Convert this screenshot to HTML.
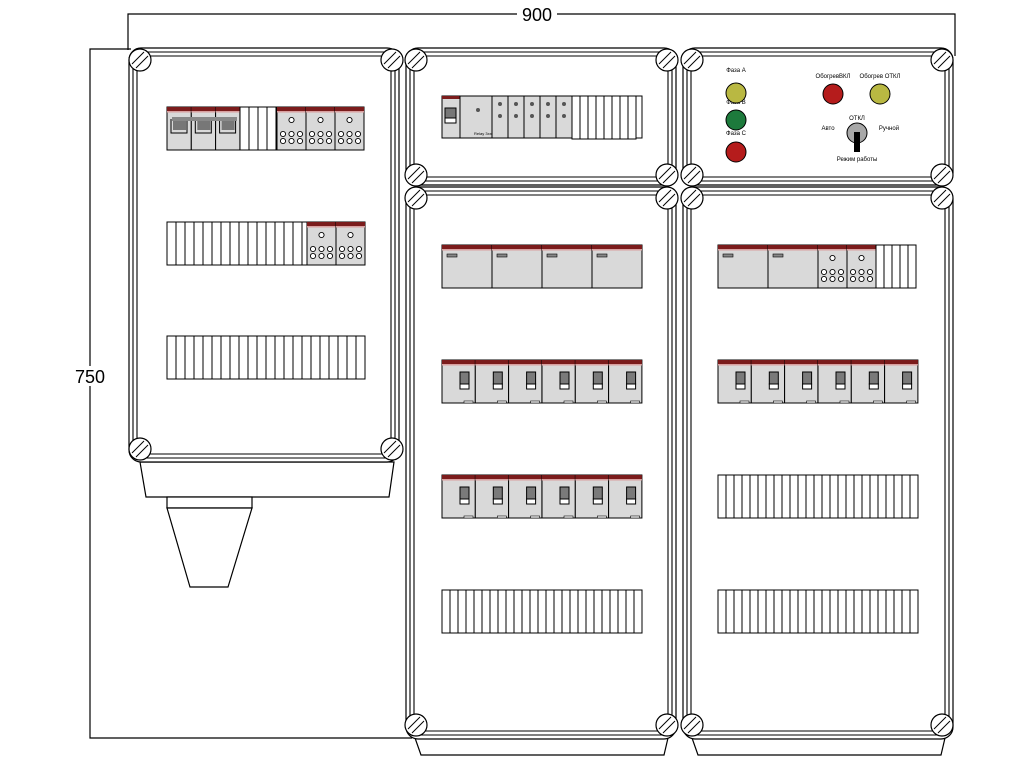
<!DOCTYPE html>
<html><head><meta charset="utf-8"><style>
html,body{margin:0;padding:0;background:#fff;}
svg{display:block;}
text{font-family:"Liberation Sans",sans-serif;}
</style></head><body>
<svg width="1024" height="768" viewBox="0 0 1024 768" xmlns="http://www.w3.org/2000/svg">
<defs>
  <g id="sc"><circle r="11" fill="#fff" stroke="#000" stroke-width="1.2"/><line x1="-8" y1="4" x2="4" y2="-8" stroke="#000"/><line x1="-4" y1="8" x2="8" y2="-4" stroke="#000"/></g>
  <g id="bl"><rect x="0" y="0" width="9" height="43" fill="#fff" stroke="#000"/></g>
  <g id="bl8"><rect x="0" y="0" width="8" height="43" fill="#fff" stroke="#000"/></g>
  <g id="brk"><rect width="33.3" height="43" fill="#d9d9d9" stroke="#000"/><rect width="33.3" height="4" fill="#7b1c1c"/><rect y="4" width="33.3" height="1.5" fill="#d9a0a0"/><rect x="18" y="12" width="9" height="12" fill="#7a7a7a" stroke="#000"/><rect x="18" y="24" width="9" height="5" fill="#fff" stroke="#000"/><rect x="22" y="41" width="9" height="2" fill="#fff" stroke="#000" stroke-width="0.6"/></g>
  <g id="big"><rect width="50" height="43" fill="#d9d9d9" stroke="#000"/><rect width="50" height="4" fill="#7b1c1c"/><rect y="4" width="50" height="1.5" fill="#d9a0a0"/><rect x="5" y="9" width="10" height="3" fill="#888" stroke="#000" stroke-width="0.6"/></g>
  <g id="rcd"><rect width="29" height="43" fill="#d9d9d9" stroke="#000"/><rect width="29" height="4" fill="#7b1c1c"/><rect y="4" width="29" height="1.5" fill="#d9a0a0"/><g fill="#fff" stroke="#000" stroke-width="0.9"><circle cx="14.5" cy="13" r="2.6"/><circle cx="6" cy="27" r="2.6"/><circle cx="14.5" cy="27" r="2.6"/><circle cx="23" cy="27" r="2.6"/><circle cx="6" cy="34" r="2.6"/><circle cx="14.5" cy="34" r="2.6"/><circle cx="23" cy="34" r="2.6"/></g></g>
  <g id="pole"><rect width="24.3" height="43" fill="#d9d9d9" stroke="#000"/><rect width="24.3" height="4" fill="#7b1c1c"/><rect y="4" width="24.3" height="1.5" fill="#d9a0a0"/><path d="M4 12 V26 H20 V12" fill="none" stroke="#000"/><rect x="6" y="12" width="13" height="11" fill="#777"/></g>
  <g id="dm"><rect width="16" height="42" fill="#d9d9d9" stroke="#000"/><circle cx="8" cy="8" r="2" fill="#555"/><circle cx="8" cy="20" r="2" fill="#555"/></g>
</defs>

<!-- dimension lines -->
<g stroke="#000" stroke-width="1.2" fill="none">
  <polyline points="128,50 128,14 955,14 955,56"/>
  <polyline points="131,49 90,49 90,738 412,738"/>
</g>
<rect x="517" y="5" width="40" height="18" fill="#fff"/>
<text x="537" y="21" font-size="18" text-anchor="middle">900</text>
<rect x="72" y="366" width="36" height="20" fill="#fff"/>
<text x="90" y="383" font-size="18" text-anchor="middle">750</text>

<!-- Panel A base & gland -->
<g stroke="#000" stroke-width="1.2" fill="#fff">
  <polygon points="140,462 394,462 389,497 146,497"/>
  <rect x="167" y="497" width="85" height="11"/>
  <polygon points="167,508 252,508 228,587 190,587"/>
</g>
<!-- bases of C and E -->
<g stroke="#000" stroke-width="1.2" fill="#fff">
  <polygon points="415,738 668,738 664,755 421,755"/>
  <polygon points="692,738 945,738 941,755 698,755"/>
</g>

<!-- frames -->
<g fill="#fff" stroke="#000" stroke-width="1.2">
  <rect x="129" y="48" width="270" height="414" rx="12"/>
  <rect x="406" y="48" width="270" height="137" rx="12"/>
  <rect x="406" y="187" width="270" height="552" rx="12"/>
  <rect x="683" y="48" width="270" height="137" rx="12"/>
  <rect x="683" y="187" width="270" height="552" rx="12"/>
</g>
<g fill="none" stroke="#000" stroke-width="1.1">
  <rect x="133" y="52" width="262" height="406" rx="9"/>
  <rect x="137" y="56" width="254" height="398" rx="6"/>
  <rect x="410" y="52" width="262" height="129" rx="9"/>
  <rect x="414" y="56" width="254" height="121" rx="6"/>
  <rect x="410" y="191" width="262" height="544" rx="9"/>
  <rect x="414" y="195" width="254" height="536" rx="6"/>
  <rect x="687" y="52" width="262" height="129" rx="9"/>
  <rect x="691" y="56" width="254" height="121" rx="6"/>
  <rect x="687" y="191" width="262" height="544" rx="9"/>
  <rect x="691" y="195" width="254" height="536" rx="6"/>
</g>

<!-- screws -->
<use href="#sc" x="140" y="60"/><use href="#sc" x="392" y="60"/>
<use href="#sc" x="140" y="449"/><use href="#sc" x="392" y="449"/>
<use href="#sc" x="416" y="60"/><use href="#sc" x="667" y="60"/>
<use href="#sc" x="416" y="175"/><use href="#sc" x="667" y="175"/>
<use href="#sc" x="416" y="198"/><use href="#sc" x="667" y="198"/>
<use href="#sc" x="416" y="725"/><use href="#sc" x="667" y="725"/>
<use href="#sc" x="692" y="60"/><use href="#sc" x="942" y="60"/>
<use href="#sc" x="692" y="175"/><use href="#sc" x="942" y="175"/>
<use href="#sc" x="692" y="198"/><use href="#sc" x="942" y="198"/>
<use href="#sc" x="692" y="725"/><use href="#sc" x="942" y="725"/>

<!-- Panel A row1 -->
<use href="#pole" x="167" y="107"/><use href="#pole" x="191.3" y="107"/><use href="#pole" x="215.6" y="107"/>
<rect x="172" y="117" width="65" height="4" fill="#888"/>
<use href="#bl" x="240" y="107"/><use href="#bl" x="249" y="107"/><use href="#bl" x="258" y="107"/><use href="#bl" x="267" y="107"/>
<use href="#rcd" x="277" y="107"/><use href="#rcd" x="306" y="107"/><use href="#rcd" x="335" y="107"/>
<!-- Panel A row2 -->
<g>
<use href="#bl" x="167" y="222"/><use href="#bl" x="176" y="222"/><use href="#bl" x="185" y="222"/><use href="#bl" x="194" y="222"/><use href="#bl" x="203" y="222"/><use href="#bl" x="212" y="222"/><use href="#bl" x="221" y="222"/><use href="#bl" x="230" y="222"/><use href="#bl" x="239" y="222"/><use href="#bl" x="248" y="222"/><use href="#bl" x="257" y="222"/><use href="#bl" x="266" y="222"/><use href="#bl" x="275" y="222"/><use href="#bl" x="284" y="222"/><use href="#bl" x="293" y="222"/><rect x="302" y="222" width="5" height="43" fill="#fff" stroke="#000"/>
</g>
<use href="#rcd" x="307" y="222"/><use href="#rcd" x="336" y="222"/>
<!-- Panel A row3 -->
<g>
<use href="#bl" x="167" y="336"/><use href="#bl" x="176" y="336"/><use href="#bl" x="185" y="336"/><use href="#bl" x="194" y="336"/><use href="#bl" x="203" y="336"/><use href="#bl" x="212" y="336"/><use href="#bl" x="221" y="336"/><use href="#bl" x="230" y="336"/><use href="#bl" x="239" y="336"/><use href="#bl" x="248" y="336"/><use href="#bl" x="257" y="336"/><use href="#bl" x="266" y="336"/><use href="#bl" x="275" y="336"/><use href="#bl" x="284" y="336"/><use href="#bl" x="293" y="336"/><use href="#bl" x="302" y="336"/><use href="#bl" x="311" y="336"/><use href="#bl" x="320" y="336"/><use href="#bl" x="329" y="336"/><use href="#bl" x="338" y="336"/><use href="#bl" x="347" y="336"/><use href="#bl" x="356" y="336"/>
</g>

<!-- Panel B -->
<rect x="442" y="96" width="18" height="42" fill="#d9d9d9" stroke="#000"/>
<rect x="442" y="96" width="18" height="3" fill="#7b1c1c"/>
<rect x="445" y="108" width="11" height="10" fill="#777" stroke="#000"/>
<rect x="445" y="118" width="11" height="5" fill="#fff" stroke="#000"/>
<rect x="460" y="96" width="32" height="42" fill="#d9d9d9" stroke="#000"/>
<circle cx="478" cy="110" r="2" fill="#555"/>
<text x="474" y="135" font-size="4">Relay 3xx</text>
<use href="#dm" x="492" y="96"/><use href="#dm" x="508" y="96"/><use href="#dm" x="524" y="96"/><use href="#dm" x="540" y="96"/><use href="#dm" x="556" y="96"/>
<g>
<use href="#bl8" x="572" y="96"/><use href="#bl8" x="580" y="96"/><use href="#bl8" x="588" y="96"/><use href="#bl8" x="596" y="96"/><use href="#bl8" x="604" y="96"/><use href="#bl8" x="612" y="96"/><use href="#bl8" x="620" y="96"/><use href="#bl8" x="628" y="96"/><rect x="636" y="96" width="6" height="42" fill="#fff" stroke="#000"/>
</g>

<!-- Panel C -->
<use href="#big" x="442" y="245"/><use href="#big" x="492" y="245"/><use href="#big" x="542" y="245"/><use href="#big" x="592" y="245"/>
<use href="#brk" x="442" y="360"/><use href="#brk" x="475.3" y="360"/><use href="#brk" x="508.6" y="360"/><use href="#brk" x="542" y="360"/><use href="#brk" x="575.3" y="360"/><use href="#brk" x="608.6" y="360"/>
<use href="#brk" x="442" y="475"/><use href="#brk" x="475.3" y="475"/><use href="#brk" x="508.6" y="475"/><use href="#brk" x="542" y="475"/><use href="#brk" x="575.3" y="475"/><use href="#brk" x="608.6" y="475"/>
<g id="blrow">
<use href="#bl8" x="442" y="590"/><use href="#bl8" x="450" y="590"/><use href="#bl8" x="458" y="590"/><use href="#bl8" x="466" y="590"/><use href="#bl8" x="474" y="590"/><use href="#bl8" x="482" y="590"/><use href="#bl8" x="490" y="590"/><use href="#bl8" x="498" y="590"/><use href="#bl8" x="506" y="590"/><use href="#bl8" x="514" y="590"/><use href="#bl8" x="522" y="590"/><use href="#bl8" x="530" y="590"/><use href="#bl8" x="538" y="590"/><use href="#bl8" x="546" y="590"/><use href="#bl8" x="554" y="590"/><use href="#bl8" x="562" y="590"/><use href="#bl8" x="570" y="590"/><use href="#bl8" x="578" y="590"/><use href="#bl8" x="586" y="590"/><use href="#bl8" x="594" y="590"/><use href="#bl8" x="602" y="590"/><use href="#bl8" x="610" y="590"/><use href="#bl8" x="618" y="590"/><use href="#bl8" x="626" y="590"/><use href="#bl8" x="634" y="590"/>
</g>

<!-- Panel E -->
<use href="#big" x="718" y="245"/><use href="#big" x="768" y="245"/>
<use href="#rcd" x="818" y="245"/><use href="#rcd" x="847" y="245"/>
<use href="#bl8" x="876" y="245"/><use href="#bl8" x="884" y="245"/><use href="#bl8" x="892" y="245"/><use href="#bl8" x="900" y="245"/><use href="#bl8" x="908" y="245"/>
<use href="#brk" x="718" y="360"/><use href="#brk" x="751.3" y="360"/><use href="#brk" x="784.6" y="360"/><use href="#brk" x="818" y="360"/><use href="#brk" x="851.3" y="360"/><use href="#brk" x="884.6" y="360"/>
<use href="#blrow" x="276" y="-115"/>
<use href="#blrow" x="276" y="0"/>

<!-- Panel D -->
<g font-size="6" text-anchor="middle">
<text x="736" y="72">Фаза А</text>
<text x="736" y="104">Фаза В</text>
<text x="736" y="135">Фаза С</text>
<text x="833" y="78">ОбогревВКЛ</text>
<text x="880" y="78">Обогрев ОТКЛ</text>
<text x="857" y="120">ОТКЛ</text>
<text x="828" y="130">Авто</text>
<text x="889" y="130">Ручной</text>
<text x="857" y="161">Режим работы</text>
</g>
<circle cx="736" cy="93" r="10" fill="#b9b842" stroke="#000"/>
<circle cx="736" cy="120" r="10" fill="#1d7a3c" stroke="#000"/>
<circle cx="736" cy="152" r="10" fill="#b51c1c" stroke="#000"/>
<circle cx="833" cy="94" r="10" fill="#b51c1c" stroke="#000"/>
<circle cx="880" cy="94" r="10" fill="#b9b842" stroke="#000"/>
<circle cx="857" cy="133" r="10" fill="#a8a8a8" stroke="#000"/>
<rect x="854" y="132" width="6" height="20" fill="#000"/>
</svg>
</body></html>
